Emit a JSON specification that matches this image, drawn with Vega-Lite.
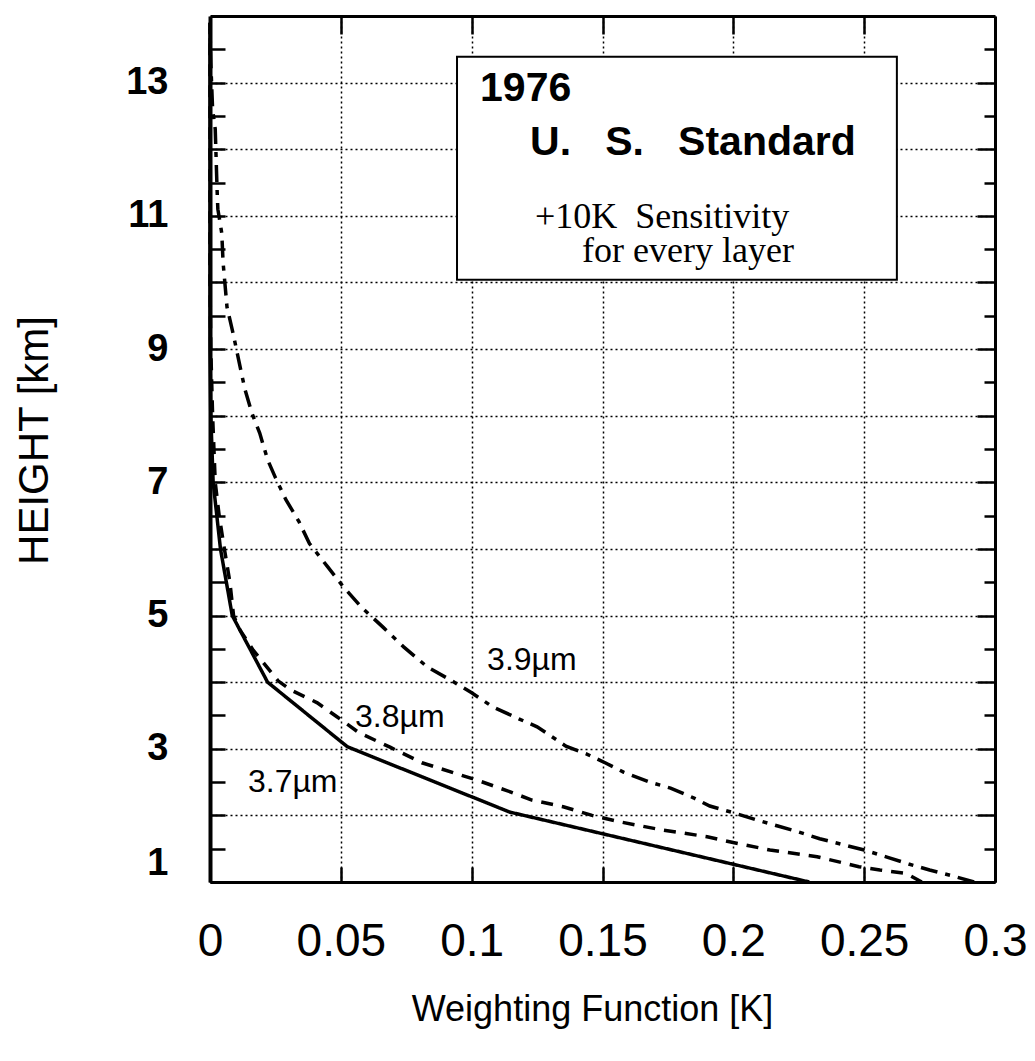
{
  "$schema": "https://vega.github.io/schema/vega-lite/v6.json",
  "width": 785,
  "height": 866,
  "autosize": {"type": "none"},
  "padding": {"left": 210, "top": 16, "right": 40, "bottom": 179},
  "background": "white",
  "config": {"view": {"stroke": null}},
  "datasets": {
    "box": [{"x0": 0.0944, "x1": 0.2625, "y0": 10.04, "y1": 13.39}],
    "boxBold": [
      {"x": 0.1032, "y": 12.73, "label": "1976"},
      {"x": 0.1223, "y": 11.92, "label": "U.\u00a0\u00a0\u00a0S.\u00a0\u00a0\u00a0Standard"}
    ],
    "boxSerif": [
      {"x": 0.1242, "y": 10.82, "label": "+10K\u00a0\u00a0Sensitivity"},
      {"x": 0.1422, "y": 10.31, "label": "for every layer"}
    ],
    "bandLabels": [
      {"x": 0.1059, "y": 4.18, "label": "3.9µm"},
      {"x": 0.0554, "y": 3.33, "label": "3.8µm"},
      {"x": 0.0145, "y": 2.35, "label": "3.7µm"}
    ],
    "curves": [
      {"band": "3.7µm", "w": 0.229, "h": 1.0},
      {"band": "3.7µm", "w": 0.1145, "h": 2.05},
      {"band": "3.7µm", "w": 0.0525, "h": 3.03},
      {"band": "3.7µm", "w": 0.022, "h": 4.0},
      {"band": "3.7µm", "w": 0.0085, "h": 5.0},
      {"band": "3.7µm", "w": 0.004, "h": 6.0},
      {"band": "3.7µm", "w": 0.0012, "h": 7.0},
      {"band": "3.7µm", "w": 0.0003, "h": 8.0},
      {"band": "3.7µm", "w": 0.0, "h": 9.0},
      {"band": "3.7µm", "w": 0.0, "h": 13.9},

      {"band": "3.8µm", "w": 0.272, "h": 1.0},
      {"band": "3.8µm", "w": 0.266, "h": 1.13},
      {"band": "3.8µm", "w": 0.256, "h": 1.18},
      {"band": "3.8µm", "w": 0.248, "h": 1.23},
      {"band": "3.8µm", "w": 0.232, "h": 1.38},
      {"band": "3.8µm", "w": 0.214, "h": 1.48},
      {"band": "3.8µm", "w": 0.199, "h": 1.6},
      {"band": "3.8µm", "w": 0.19, "h": 1.68},
      {"band": "3.8µm", "w": 0.173, "h": 1.78},
      {"band": "3.8µm", "w": 0.157, "h": 1.9},
      {"band": "3.8µm", "w": 0.146, "h": 2.0},
      {"band": "3.8µm", "w": 0.135, "h": 2.13},
      {"band": "3.8µm", "w": 0.123, "h": 2.23},
      {"band": "3.8µm", "w": 0.115, "h": 2.35},
      {"band": "3.8µm", "w": 0.102, "h": 2.53},
      {"band": "3.8µm", "w": 0.081, "h": 2.79},
      {"band": "3.8µm", "w": 0.069, "h": 3.02},
      {"band": "3.8µm", "w": 0.057, "h": 3.24},
      {"band": "3.8µm", "w": 0.0485, "h": 3.48},
      {"band": "3.8µm", "w": 0.041, "h": 3.69},
      {"band": "3.8µm", "w": 0.031, "h": 3.88},
      {"band": "3.8µm", "w": 0.026, "h": 4.02},
      {"band": "3.8µm", "w": 0.0165, "h": 4.48},
      {"band": "3.8µm", "w": 0.0115, "h": 4.78},
      {"band": "3.8µm", "w": 0.009, "h": 5.0},
      {"band": "3.8µm", "w": 0.0076, "h": 5.5},
      {"band": "3.8µm", "w": 0.0055, "h": 6.0},
      {"band": "3.8µm", "w": 0.0035, "h": 6.5},
      {"band": "3.8µm", "w": 0.002, "h": 7.0},
      {"band": "3.8µm", "w": 0.001, "h": 8.0},
      {"band": "3.8µm", "w": 0.0003, "h": 9.0},
      {"band": "3.8µm", "w": 0.0, "h": 10.0},
      {"band": "3.8µm", "w": 0.0, "h": 13.9},

      {"band": "3.9µm", "w": 0.292, "h": 1.0},
      {"band": "3.9µm", "w": 0.283, "h": 1.1},
      {"band": "3.9µm", "w": 0.275, "h": 1.18},
      {"band": "3.9µm", "w": 0.267, "h": 1.27},
      {"band": "3.9µm", "w": 0.259, "h": 1.37},
      {"band": "3.9µm", "w": 0.25, "h": 1.48},
      {"band": "3.9µm", "w": 0.242, "h": 1.56},
      {"band": "3.9µm", "w": 0.233, "h": 1.65},
      {"band": "3.9µm", "w": 0.225, "h": 1.75},
      {"band": "3.9µm", "w": 0.217, "h": 1.84},
      {"band": "3.9µm", "w": 0.209, "h": 1.93},
      {"band": "3.9µm", "w": 0.2, "h": 2.04},
      {"band": "3.9µm", "w": 0.191, "h": 2.14},
      {"band": "3.9µm", "w": 0.185, "h": 2.26},
      {"band": "3.9µm", "w": 0.176, "h": 2.41},
      {"band": "3.9µm", "w": 0.168, "h": 2.5},
      {"band": "3.9µm", "w": 0.158, "h": 2.65},
      {"band": "3.9µm", "w": 0.151, "h": 2.79},
      {"band": "3.9µm", "w": 0.144, "h": 2.92},
      {"band": "3.9µm", "w": 0.136, "h": 3.04},
      {"band": "3.9µm", "w": 0.125, "h": 3.33},
      {"band": "3.9µm", "w": 0.118, "h": 3.45},
      {"band": "3.9µm", "w": 0.108, "h": 3.63},
      {"band": "3.9µm", "w": 0.1, "h": 3.84},
      {"band": "3.9µm", "w": 0.092, "h": 4.03},
      {"band": "3.9µm", "w": 0.083, "h": 4.23},
      {"band": "3.9µm", "w": 0.074, "h": 4.53},
      {"band": "3.9µm", "w": 0.066, "h": 4.83},
      {"band": "3.9µm", "w": 0.058, "h": 5.12},
      {"band": "3.9µm", "w": 0.051, "h": 5.43},
      {"band": "3.9µm", "w": 0.045, "h": 5.73},
      {"band": "3.9µm", "w": 0.038, "h": 6.08},
      {"band": "3.9µm", "w": 0.034, "h": 6.41},
      {"band": "3.9µm", "w": 0.029, "h": 6.74},
      {"band": "3.9µm", "w": 0.025, "h": 7.07},
      {"band": "3.9µm", "w": 0.022, "h": 7.34},
      {"band": "3.9µm", "w": 0.019, "h": 7.74},
      {"band": "3.9µm", "w": 0.016, "h": 8.04},
      {"band": "3.9µm", "w": 0.0134, "h": 8.39},
      {"band": "3.9µm", "w": 0.012, "h": 8.64},
      {"band": "3.9µm", "w": 0.0103, "h": 8.96},
      {"band": "3.9µm", "w": 0.0088, "h": 9.24},
      {"band": "3.9µm", "w": 0.0065, "h": 9.63},
      {"band": "3.9µm", "w": 0.005, "h": 10.3},
      {"band": "3.9µm", "w": 0.0045, "h": 10.74},
      {"band": "3.9µm", "w": 0.003, "h": 11.1},
      {"band": "3.9µm", "w": 0.0027, "h": 11.4},
      {"band": "3.9µm", "w": 0.002, "h": 12.3},
      {"band": "3.9µm", "w": 0.001, "h": 12.6},
      {"band": "3.9µm", "w": 0.0003, "h": 13.3},
      {"band": "3.9µm", "w": 0.0, "h": 13.8}
    ]
  },
  "layer": [
    {
      "data": {"name": "box"},
      "mark": {"type": "rect", "fill": "white", "stroke": "black", "strokeWidth": 2},
      "encoding": {
        "x": {
          "field": "x0", "type": "quantitative",
          "scale": {"domain": [0, 0.3], "nice": false, "zero": false},
          "axis": {
            "orient": "bottom",
            "values": [0, 0.05, 0.1, 0.15, 0.2, 0.25, 0.3],
            "format": "~g",
            "title": "Weighting Function [K]",
            "grid": true, "gridColor": "black", "gridDash": [2, 3], "gridWidth": 1.5, "gridOpacity": 1,
            "domainColor": "black", "domainWidth": 3,
            "ticks": true, "tickColor": "black", "tickWidth": 2.5, "tickSize": -15,
            "labelFont": "Liberation Sans", "labelFontSize": 46, "labelColor": "black",
            "labelPadding": 52, "labelFlush": false, "labelOverlap": false, "labelBaseline": "top",
            "titleFont": "Liberation Sans", "titleFontSize": 36, "titleFontWeight": "normal",
            "titleColor": "black", "titleX": 382, "titleY": 138, "titleBaseline": "alphabetic"
          }
        },
        "x2": {"field": "x1"},
        "y": {
          "field": "y0", "type": "quantitative",
          "scale": {"domain": [1, 14], "nice": false, "zero": false},
          "axis": {
            "orient": "left",
            "values": [1, 1.5, 2, 2.5, 3, 3.5, 4, 4.5, 5, 5.5, 6, 6.5, 7, 7.5, 8, 8.5, 9, 9.5, 10, 10.5, 11, 11.5, 12, 12.5, 13, 13.5],
            "format": "~g",
            "labelExpr": "datum.value % 2 === 1 ? datum.label : ''",
            "title": "HEIGHT [km]",
            "grid": true, "gridColor": "black", "gridDash": [2, 3], "gridWidth": 1.5,
            "gridOpacity": {"condition": {"test": "datum.value % 1 === 0", "value": 1}, "value": 0},
            "domainColor": "black", "domainWidth": 4,
            "ticks": true, "tickColor": "black", "tickWidth": 2.5, "tickSize": -15,
            "labelFont": "Liberation Sans", "labelFontWeight": "bold", "labelFontSize": 38, "labelColor": "black",
            "labelPadding": 57, "labelFlush": true, "labelOverlap": false,
            "titleFont": "Liberation Sans", "titleFontSize": 42, "titleFontWeight": "normal", "titleColor": "black",
            "titleX": -176, "titleY": 424, "titleBaseline": "middle"
          }
        },
        "y2": {"field": "y1"}
      }
    },
    {
      "data": {"name": "curves"},
      "mark": {"type": "line", "color": "black", "strokeWidth": 3.5},
      "encoding": {
        "x": {
          "field": "w", "type": "quantitative",
          "axis": {
            "orient": "top", "values": [0.05, 0.1, 0.15, 0.2, 0.25],
            "labels": false, "grid": false, "title": null,
            "domainColor": "black", "domainWidth": 3,
            "ticks": true, "tickColor": "black", "tickWidth": 2.5, "tickSize": -18
          }
        },
        "y": {
          "field": "h", "type": "quantitative",
          "axis": {
            "orient": "right",
            "values": [1, 1.5, 2, 2.5, 3, 3.5, 4, 4.5, 5, 5.5, 6, 6.5, 7, 7.5, 8, 8.5, 9, 9.5, 10, 10.5, 11, 11.5, 12, 12.5, 13, 13.5],
            "labels": false, "grid": false, "title": null,
            "domainColor": "black", "domainWidth": 3,
            "ticks": true, "tickColor": "black", "tickWidth": 2.5,
            "tickSize": {"condition": {"test": "datum.value % 1 === 0", "value": -18}, "value": -11}
          }
        },
        "order": {"field": "h", "type": "quantitative"},
        "strokeDash": {
          "field": "band", "type": "nominal",
          "scale": {"domain": ["3.7µm", "3.8µm", "3.9µm"], "range": [[1, 0], [12, 9], [17, 8, 5, 8]]},
          "legend": null
        }
      }
    },
    {
      "data": {"name": "boxBold"},
      "mark": {"type": "text", "align": "left", "baseline": "alphabetic", "font": "Liberation Sans", "fontWeight": "bold", "fontSize": 41, "color": "black"},
      "encoding": {
        "x": {"field": "x", "type": "quantitative", "axis": null},
        "y": {"field": "y", "type": "quantitative", "axis": null},
        "text": {"field": "label"}
      }
    },
    {
      "data": {"name": "boxSerif"},
      "mark": {"type": "text", "align": "left", "baseline": "alphabetic", "font": "Liberation Serif", "fontSize": 36, "color": "black"},
      "encoding": {
        "x": {"field": "x", "type": "quantitative", "axis": null},
        "y": {"field": "y", "type": "quantitative", "axis": null},
        "text": {"field": "label"}
      }
    },
    {
      "data": {"name": "bandLabels"},
      "mark": {"type": "text", "align": "left", "baseline": "alphabetic", "font": "Liberation Sans", "fontSize": 32, "color": "black"},
      "encoding": {
        "x": {"field": "x", "type": "quantitative", "axis": null},
        "y": {"field": "y", "type": "quantitative", "axis": null},
        "text": {"field": "label"}
      }
    }
  ]
}
